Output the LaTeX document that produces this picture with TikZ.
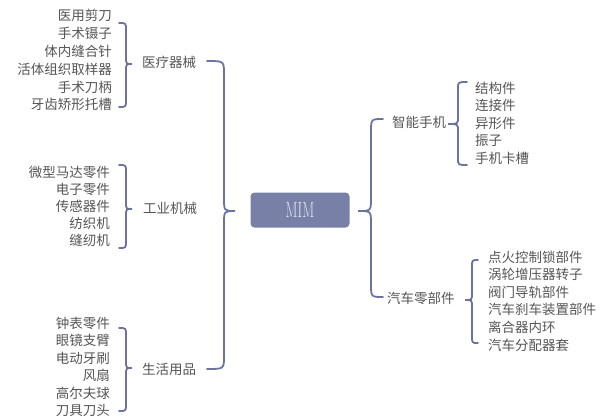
\documentclass[tikz,border=0pt]{standalone}
\usepackage{fontspec}
\usepackage{graphicx}
\newfontfamily\cjk{Noto Sans CJK SC}
\definecolor{linec}{HTML}{6C739C}
\definecolor{txtc}{HTML}{555555}
\definecolor{boxc}{HTML}{7880A8}
\newcommand\bracedraw[7]{%
  \draw[br] (#1,#4) .. controls (#2,#4) .. (#2,{#4+#7}) -- (#2,{#5-#7})
    .. controls (#2,#5) .. (#3,#5) .. controls (#2,#5) .. (#2,{#5+#7})
    -- (#2,{#6-#7}) .. controls (#2,#6) .. (#1,#6);}
\begin{document}
\begin{tikzpicture}[x=1pt,y=-1pt,
  br/.style={draw=linec,line width=1.8pt,line cap=round},
  itemL/.style={anchor=base east,inner sep=0pt,text=txtc,font=\cjk\fontsize{13.5}{16}\selectfont},
  itemR/.style={anchor=base west,inner sep=0pt,text=txtc,font=\cjk\fontsize{13.5}{16}\selectfont},
  lab/.style={anchor=base west,inner sep=0pt,text=txtc,font=\cjk\fontsize{13.5}{16}\selectfont},
  mimbox/.style={fill=boxc,rounded corners=4pt,minimum width=99pt,minimum height=35pt,inner sep=0pt,text=white!82!boxc}]
\useasboundingbox (0,0) rectangle (609,417);
% center
\node[mimbox] (mim) at (300,210) {\fontsize{22}{22}\selectfont\scalebox{0.64}[1]{MIM}};
% group labels
\node[lab] (med) at (142,68) {医疗器械};
\node[lab] (ind) at (143,213) {工业机械};
\node[lab] (life) at (142,374) {生活用品};
\node[lab] (phone) at (392,127) {智能手机};
\node[lab] (car) at (387,303) {汽车零部件};
% left lists
\foreach \t [count=\i] in {医用剪刀,手术镊子,体内缝合针,活体组织取样器,手术刀柄,牙齿矫形托槽}
  \node[itemL] (m\i) at (112,{21+17.8*(\i-1)}) {\t};
\foreach \t [count=\i] in {微型马达零件,电子零件,传感器件,纺织机,缝纫机}
  \node[itemL] (n\i) at (110,{177+17*(\i-1)}) {\t};
\foreach \t [count=\i] in {钟表零件,眼镜支臂,电动牙刷,风扇,高尔夫球,刀具刀头}
  \node[itemL] (l\i) at (110,{328+17.5*(\i-1)}) {\t};
% right lists
\foreach \t [count=\i] in {结构件,连接件,异形件,振子,手机卡槽}
  \node[itemR] (p\i) at (475,{93+17.5*(\i-1)}) {\t};
\foreach \t [count=\i] in {点火控制锁部件,涡轮增压器转子,阀门导轨部件,汽车刹车装置部件,离合器内环,汽车分配器套}
  \node[itemR] (c\i) at (488,{262+17.6*(\i-1)}) {\t};
% braces
\bracedraw{119}{126}{132}{23}{64}{107}{7}
\bracedraw{119}{126}{132}{165}{209}{248}{7}
\bracedraw{119}{126}{132}{328}{368}{411}{7}
\bracedraw{207}{224}{235}{61}{211}{369}{13}
\bracedraw{383}{371}{358}{119}{211}{297}{13}
\bracedraw{467}{458}{448}{82}{124}{165}{7}
\bracedraw{478}{472}{465}{260}{300}{343}{7}
\end{tikzpicture}
\end{document}
